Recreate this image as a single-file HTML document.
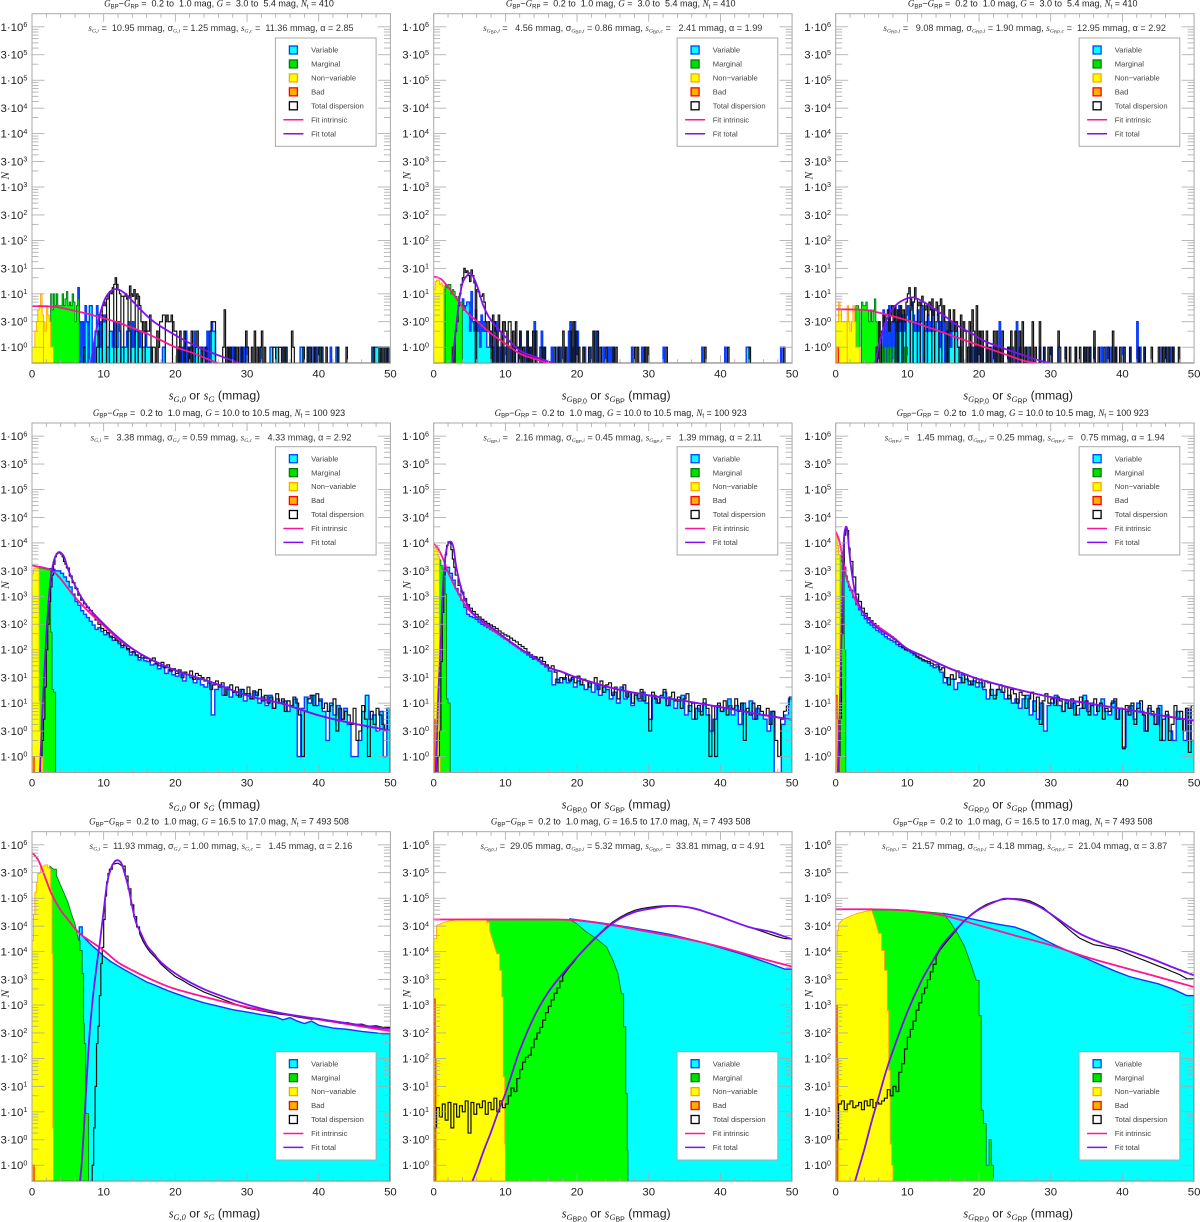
<!DOCTYPE html>
<html lang="en">
<head>
<meta charset="utf-8">
<title>Dispersion histograms</title>
<style>
html,body{margin:0;padding:0;background:#fff;width:1200px;height:1222px;overflow:hidden}
svg{display:block}
text{font-family:"Liberation Sans",sans-serif;white-space:pre}
</style>
</head>
<body>
<svg id="chart" xmlns="http://www.w3.org/2000/svg" width="1200" height="1222" viewBox="0 0 1200 1222"></svg>
<script>
/* ---------- Axis tick data ---------- */
const xTickValues = [0,10,20,30,40,50];
const yTickMantissas = [1,3];
const yTickExponents = [0,1,2,3,4,5,6];
const legendLabels = ['Variable','Marginal','Non\u2212variable','Bad','Total dispersion','Fit intrinsic','Fit total'];

/* ---------- Row 1: G = 3.0 to 5.4 mag ---------- */
const p1NonX=[0,.2,.4,.6,.8,1,1.2,1.4,1.6,1.8,2,2.2,2.4,2.6,2.8,3];
const p1NonN=[1,1,2,3,5,6,10,4,3,2,6,4,3,1,1,0];
const p1MarX=[2.4,2.6,2.8,3,3.2,3.4,3.6,3.8,4,4.2,4.4,4.6,4.8,5,5.2,5.4,5.6,5.8,6,6.2,6.4,6.6];
const p1MarN=[3,10,5,10,6,10,6,6,6,10,6,8,11,6,7,6,10,7,3,6,8,0];
const p1VarX=[6.4,6.6,7,7.2,7.4,7.6,8,8.2,8.6,8.8,9,9.2,9.4,9.6,9.8,10,10.2,10.4,10.6,10.8,11,11.2,11.4,11.6,11.8,12,12.2,12.4,12.6,12.8,13,13.2,13.4,13.6,13.8,14,14.2,14.4,14.6,14.8,15,15.2,15.4,15.6,15.8,16,16.2,16.4,16.6,18.2,18.4,20.4,20.6,21,21.4,21.6,22,22.2,22.6,22.8,23,23.2,23.4,24,24.4,25,25.2,25.4,27.4,27.8,28.2,29,29.4,29.6,30,31.8,33.2,33.4,34,34.2,35,35.2,37.4,37.6,38.4,38.6,39.2,39.6,40,40.2,41.6,42.4,42.6,47.4,47.6,47.8,48,48.2,48.4,48.6,49.4];
const p1VarN=[13,3,3,1,6,3,6,6,1,2,6,4,3,1,4,3,4,1,1,2,2,1,3,1,1,3,2,1,1,1,1,2,3,2,1,3,1,2,2,1,2,1,1,1,2,1,1,1,1,1,1,1,1,1,2,1,1,1,2,1,1,1,1,1,2,3,2,2,1,1,1,1,1,1,1,1,1,1,1,1,1,1,1,1,1,1,1,1,1,1,1,1,1,1,1,1,1,1,1,1,1];
const p1TotX=[7.2,9,9.2,9.4,9.6,9.8,10,10.2,10.4,10.6,10.8,11,11.2,11.4,11.6,11.8,12,12.2,12.4,12.6,12.8,13,13.2,13.4,13.6,13.8,14,14.2,14.4,14.6,14.8,15,15.2,15.4,15.6,15.8,16,16.2,16.4,16.8,17,17.4,17.6,17.8,18,18.2,18.4,18.6,18.8,19,19.2,19.4,19.6,19.8,20,20.4,20.6,21.2,21.8,22.2,22.8,23,23.6,24.2,24.8,25,25.2,25.4,26.6,26.8,27.2,27.6,28.2,28.6,29.2,29.8,30,30.6,31,31.4,31.8,32,32.4,33.6,33.8,34.4,34.6,35,35.4,36.2,36.4,37.8,38.4,38.8,39.4,40,40.4,41,42.6,43.8,47.6,48.4,48.8,49.2,49.6];
const p1TotN=[1,1,2,4,4,6,7,6,8,10,11,10,13,15,20,15,12,10,9,9,9,10,8,9,14,10,9,12,8,10,9,6,3,3,2,3,2,2,4,1,1,2,1,3,3,4,4,3,4,3,3,4,3,2,2,1,2,2,1,2,1,2,1,1,2,3,3,3,1,5,1,1,1,1,1,2,1,1,2,1,1,2,1,1,1,1,1,1,1,2,1,1,1,1,1,1,1,1,1,1,1,1,1,1,1];
const p2NonX=[0,.2,.4,.6,.8,1,1.2,1.4];
const p2NonN=[12,17,18,18,15,16,14,0];
const p2MarX=[1.2,1.4,1.6,1.8,2,2.2,2.4,2.6,2.8,3,3.2,3.4,3.6,3.8,4];
const p2MarN=[14,12,15,13,15,15,10,12,11,9,8,9,7,7,0];
const p2VarX=[3.8,4,4.2,4.4,4.6,4.8,5,5.2,5.4,5.6,5.8,6,6.2,6.4,6.6,6.8,7,7.2,7.4,7.6,7.8,8,8.2,8.6,8.8,9.2,9.6,10,10.6,11.2,11.8,12,12.6,13,13.4,14,14.8,15,15.4,16.4,17.2,17.6,18.2,18.8,19,19.4,19.6,20,21,21.8,22.4,22.6,23.6,24.2,24.6,25,27.6,29,29.4,32,37.4,40.6,43.6,43.8,48.4];
const p2VarN=[6,8,5,6,7,7,2,11,3,2,5,2,3,1,4,2,3,2,1,1,2,1,1,3,1,1,1,1,1,1,1,2,1,2,1,3,1,2,1,1,1,1,1,2,3,1,3,2,1,1,2,2,1,1,1,1,1,1,1,1,1,1,1,1,1];
const p2TotX=[2.6,3,3.2,3.4,3.6,3.8,4,4.2,4.4,4.6,4.8,5,5.2,5.4,5.6,6,6.2,6.4,6.6,6.8,7,7.2,7.4,7.6,7.8,8.2,8.4,8.6,9,9.2,9.6,9.8,10,10.4,10.6,11,11.4,11.6,12,12.4,13,13.4,13.8,14.2,15,15.4,16.8,17.4,18,18.4,19,19.4,19.8,20.2,20.8,21.6,22.2,22.8,23.2,24,25,25.4,28,28.4,29.4,29.8,32.4,37.8,41,44,48.8];
const p2TotN=[1,2,3,6,10,15,20,30,25,27,22,17,28,22,16,12,11,9,9,10,7,3,2,3,2,4,3,2,4,2,3,3,2,3,3,2,3,1,2,1,2,1,2,2,1,1,1,1,2,1,2,3,2,1,1,1,2,2,1,1,1,1,1,1,1,1,1,1,1,1,1];
const p3NonX=[0,.2,.4,.6,.8,1,1.2,1.4,1.6,1.8,2,2.2,2.4,2.6,2.8,3,3.2,3.4];
const p3NonN=[3,3,7,5,3,3,3,3,6,3,2,3,6,3,1,1,1,0];
const p3MarX=[2.8,3,3.2,3.6,3.8,4,4.2,4.4,4.6,4.8,5,5.2,5.4,5.6,6,6.4,6.8,7.2,7.6,8,8.4,9.6,9.8,10];
const p3MarN=[6,6,5,7,6,6,7,5,3,5,3,5,8,3,3,1,1,1,1,1,0,1,1,0];
const p3VarX=[6.6,7,7.4,7.8,8.2,8.4,8.6,8.8,9,9.2,9.4,9.6,9.8,10,10.2,10.4,10.6,10.8,11,11.2,11.4,11.6,11.8,12,12.4,12.6,12.8,13,13.2,13.4,13.6,13.8,14,14.2,14.4,14.6,14.8,15,15.4,15.6,15.8,16,16.2,16.4,16.6,16.8,17,17.2,17.4,18.6,19,19.4,19.6,20,20.4,21,21.6,22.2,22.8,23,24,24.6,25.2,25.6,26.6,28.4,29,30,31,32,33.4,34.6,35.4,36,37,37.8,38.4,39,40,41,42,42.4,43,45.4,46,46.6,47];
const p3VarN=[5,3,6,3,6,2,3,6,2,4,2,3,4,6,3,5,7,4,2,3,5,2,3,6,2,3,4,2,3,5,2,2,3,4,1,3,2,4,2,3,3,1,2,3,2,2,1,1,1,1,1,1,1,2,1,1,1,1,3,1,1,1,3,1,1,1,1,1,1,1,1,1,1,1,1,1,1,1,1,1,3,1,1,1,1,1,1];
const p3TotX=[5.6,6,6.4,6.6,6.8,7,7.2,7.4,7.6,7.8,8,8.2,8.6,8.8,9,9.4,9.6,9.8,10,10.2,10.4,10.6,10.8,11,11.2,11.4,11.6,11.8,12,12.2,12.4,12.6,12.8,13,13.2,13.4,13.6,13.8,14,14.2,14.4,14.6,14.8,15,15.2,15.6,15.8,16,16.2,16.4,16.6,16.8,17,17.4,17.8,18,18.4,18.6,19,19.2,19.6,20,20.4,21,21.4,22,22.4,22.8,23.2,24,24.4,25,25.6,26,26.4,27,27.4,27.8,28.4,29,29.6,30,31,31.2,32,32.6,33.4,34,34.6,35,35.4,36,36.6,37.4,38,38.6,39,39.6,40.2,41,42.2,43,44,45,45.6,46,46.4,47,47.8];
const p3TotN=[1,3,2,4,3,4,5,2,4,6,3,6,5,3,6,5,3,7,10,13,8,6,7,13,8,6,7,6,9,7,5,6,4,7,5,8,4,5,7,4,6,8,4,6,3,2,5,2,3,5,2,3,1,4,3,2,1,3,5,2,6,2,2,2,1,2,2,1,2,1,2,2,2,3,1,1,3,1,3,1,1,1,2,1,1,1,1,1,1,1,1,2,1,1,1,2,1,1,1,1,1,1,1,1,1,1,1,1,1,1];

/* ---------- Row 2: G = 10.0 to 10.5 mag ---------- */
const p4NonX=[0,.2,.4,.6,.8,1,1.1,1.3,1.5];
const p4NonN=[2640,3270,3400,3400,3270,11,3,1,0];
const p4MarX=[.8,1,1.2,1.6,2,2.4,2.6,2.8,3,3.3];
const p4MarN=[3300,3400,3400,3300,3200,3100,213,18,16,0];
const p4VarX=[2.4,2.8,3.2,3.6,4,4.4,4.8,5.2,5.6,6,6.4,6.8,7.2,7.6,8,8.4,8.8,9.2,9.6,10,10.4,10.8,11.2,11.6,12,12.4,12.8,13.2,13.6,14,14.4,14.8,15.2,15.6, 16,16.5,17,17.5,18,18.5,19,19.5,20,20.5,21,21.5,22,22.5,23,23.5,24,24.5,25,25.5,26,26.5,27,27.5,28,28.5,29,29.5,30,30.5,31,31.5,32,32.5,33,33.5,34,34.5,35,35.5,36,36.5,37,37.5,38,38.5,39,39.5,40,40.5,41,41.5,42,42.5,43,43.5,44,44.5,45,45.5,46,46.5,47,47.5,48,48.5,49,49.5];
const p4VarN=[3300,3200,3000,3000,2700,2300,1900,1500,1100,800,680,540,460,400,340,290,240,260,220,190,200,170,150,160,130,110,120,100,80,90,78,64,70,62, 60,52,54,44,48,36,42,34, 32,38,26,34,30,24,28,22, 20,24,6,18,22,14,20,13, 16,14,18,11,15,12,16,10, 13,9,14,8,12,10,11,7, 9,12,1,8,13,10,14,9, 12,7,2,10,6,9,5,8, 4,1,1,2,7,14,5,6, 3,7,1,8];
const p4TotX=[1.2,1.4,1.6,1.8,2,2.2,2.4,2.6,2.8,3,3.2,3.4,3.6,3.8,4,4.2,4.4,4.6,4.8,5.2,5.6,6,6.4,6.8,7.2,7.6,8,8.4,8.8,9.2,9.6,10,10.4,10.8,11.2,11.6,12,12.4,12.8,13.2,13.6,14,14.4,14.8,15.2,15.6, 16,16.4,16.8,17.2,17.6,18,18.4,18.8,19.2,19.6,20,20.4,20.8,21.2,21.6,22,22.4,22.8,23.2,23.6,24,24.4,24.8,25.2,25.6,26,26.4,26.8,27.2,27.6,28,28.4,28.8,29.2,29.6,30,30.4,30.8,31.2,31.6,32,32.4,32.8,33.2,33.6,34,34.4,34.8,35.2,35.6,36,36.4,36.8,37.2,37.6,38,38.4,38.8,39.2,39.6,40,40.4,40.8,41.2,41.6,42,42.4,42.8,43.2,43.6,44,44.4,44.8,45.2,45.6,46,46.4,46.8,47.2,47.6,48,48.4,48.8,49.2,49.6];
const p4TotN=[1,2,5,20,100,300,800,1500,2500,4000,5500,6300,6600,6500,6200,5500,4500,4000,3400,2400,1800,1400,1050,850,720,620,540,440,360,300,250,230,210,180,170,150,140,120,125,105,90,92,80,72,78,70, 68,62,70,55,50,58,46,52,40,44, 36,42,30,38,34,40,28,36,33,30, 26,30,18,22,26,20,24,14,18,22, 16,20,13,18,15,20,12,17,14,18, 11,14,10,13,8,15,10,12,7,11, 9,13,10,6,1,7,12,14,9,15, 11,8,10,7,9,12,3,8,5,7, 6,4,8,2,3,9,5,1,7,4, 8,6,4,3,7];
const p5NonX=[0,.2,.4,.6,.8,.9];
const p5NonN=[8000,9000,7500,5500,1,0];
const p5MarX=[.8,1,1.2,1.4,1.6,1.8,2,2.3];
const p5MarN=[4800,3800,3000,2300,1100,12,10,0];
const p5VarX=[1.4,1.8,2.2,2.6,3,3.4,3.8,4.2,4.6,5,5.4,5.8,6.2,6.6,7,7.4,7.8,8.2,8.6,9,9.4,9.8,10.2,10.6,11,11.4,11.8,12.2,12.6,13,13.4,13.8, 14,14.5,15,15.5,16,16.5,17,17.5,18,18.5,19,19.5,20,20.5,21,21.5,22,22.5,23,23.5,24,24.5,25,25.5,26,26.5,27,27.5,28,28.5,29,29.5,30,30.5,31,31.5,32,32.5,33,33.5,34,34.5,35,35.5,36,36.5,37,37.5,38,38.5,39,39.5,40,40.5,41,41.5,42,42.5,43,43.5,44,44.5,45,45.5,46,46.5,47,47.5,48,48.5,49,49.5];
const p5VarN=[3000,3500,2700,2000,1400,1100,850,620,460,420,400,370,330,300,280,260,240,225,210,190,175,160,155,135,125,115,105,95,88,80,72,66, 70,62,54,48,40,22,28,24, 30,24,28,20,26,22,18,24, 16,22,14,20,18,12,16,10, 20,12,16,9,14,11,16,10, 5,14,10,13,16,9,12,8, 11,14,6,9,5,8,7,10, 6,3,5,9,7,8,12,6, 9,4,10,7,11,5,8,6, 5,3,7,.3,.3,4,6,12];
const p5TotX=[.6,.8,1,1.2,1.4,1.6,1.8,2,2.2,2.4,2.6,2.8,3,3.4,3.8,4.2,4.6,5,5.4,5.8,6.2,6.6,7,7.4,7.8,8.2,8.6,9,9.4,9.8,10.2,10.6,11,11.4,11.8,12.2,12.6,13,13.4,13.8, 14,14.4,14.8,15.2,15.6,16,16.4,16.8,17.2,17.6,18,18.4,18.8,19.2,19.6,20,20.4,20.8,21.2,21.6,22,22.4,22.8,23.2,23.6,24,24.4,24.8,25.2,25.6,26,26.4,26.8,27.2,27.6,28,28.4,28.8,29.2,29.6,30,30.4,30.8,31.2,31.6,32,32.4,32.8,33.2,33.6,34,34.4,34.8,35.2,35.6,36,36.4,36.8,37.2,37.6,38,38.4,38.8,39.2,39.6,40,40.4,40.8,41.2,41.6,42,42.4,42.8,43.2,43.6,44,44.4,44.8,45.2,45.6,46,46.4,46.8,47.2,47.6,48,48.4,48.8,49.2,49.6];
const p5TotN=[1,3,60,500,2500,6000,9000,10500,10000,7500,5000,3500,2500,1600,1200,900,700,600,520,460,410,370,340,310,290,270,250,225,205,190,180,165,150,140,125,115,105,90,80,75, 74,66,72,60,52,44,50,38,24,30, 28,34,26,30,24,32,22,28,26,20, 24,30,18,26,16,22,24,14,20,12, 18,22,13,16,10,15,12,18,11,14, 3,16,12,10,14,18,9,13,16,11, 13,8,12,15,7,10,5,9,6,12, 8,1,9,1,10,7,11,6,9,8, 12,7,10,2,8,6,10,5,9,7, 6,8,4,7,2,1,5,7,9,13];
const p6NonX=[0,.2,.4,.6];
const p6NonN=[13000,9000,6000,0];
const p6MarX=[.6,.8,1,1.2,1.4];
const p6MarN=[6000,4500,3000,100,0];
const p6VarX=[1,1.2,1.4,1.6,1.8,2,2.4,2.8,3.2,3.6,4,4.4,4.8,5.2,5.6,6,6.4,6.8,7.2,7.6,8,8.4,8.8,9.2,9.6,10,10.4,10.8,11.2,11.6,12,12.4,12.8,13.2,13.6, 14,14.5,15,15.5,16,16.5,17,17.5,18,18.5,19,19.5,20,20.5,21,21.5,22,22.5,23,23.5,24,24.5,25,25.5,26,26.5,27,27.5,28,28.5,29,29.5,30,30.5,31,31.5,32,32.5,33,33.5,34,34.5,35,35.5,36,36.5,37,37.5,38,38.5,39,39.5,40,40.5,41,41.5,42,42.5,43,43.5,44,44.5,45,45.5,46,46.5,47,47.5,48,48.5,49,49.5];
const p6VarN=[5000,3500,2400,1900,1500,1300,950,700,560,440,380,320,290,260,230,215,195,175,160,150,140,125,115,108,100,95,88,80,72,68,62,60,56,50,46, 48,38,24,30,28,18,24,34, 28,22,26,20,24,18,12,18, 14,18,16,12,14,10,12,8, 12,14,6,11,5,10,3,9, 10,14,9,7,11,8,10,6, 8,14,7,10,6,9,12,7, 6,11,5,8,1.5,7,9,5, 10,7,3,8,6,4,9,2, 6,3,2,7,5,2,8,2];
const p6TotX=[.4,.6,.8,1,1.2,1.4,1.6,1.8,2,2.4,2.8,3.2,3.6,4,4.4,4.8,5.2,5.6,6,6.4,6.8,7.2,7.6,8,8.4,8.8,9.2,9.6,10,10.4,10.8,11.2,11.6,12,12.4,12.8,13.2,13.6, 14,14.4,14.8,15.2,15.6,16,16.4,16.8,17.2,17.6,18,18.4,18.8,19.2,19.6,20,20.4,20.8,21.2,21.6,22,22.4,22.8,23.2,23.6,24,24.4,24.8,25.2,25.6,26,26.4,26.8,27.2,27.6,28,28.4,28.8,29.2,29.6,30,30.4,30.8,31.2,31.6,32,32.4,32.8,33.2,33.6,34,34.4,34.8,35.2,35.6,36,36.4,36.8,37.2,37.6,38,38.4,38.8,39.2,39.6,40,40.4,40.8,41.2,41.6,42,42.4,42.8,43.2,43.6,44,44.4,44.8,45.2,45.6,46,46.4,46.8,47.2,47.6,48,48.4,48.8,49.2,49.6];
const p6TotN=[1,5,200,3000,14000,18000,17000,8000,4500,2300,1100,800,600,480,400,350,310,280,250,225,205,190,175,160,140,125,112,100,98,92,85,76,70,65,62,60,56,52, 52,42,46,30,22,34,28,40,30,24, 34,26,22,30,24,28,20,26,24,14, 12,18,22,16,20,12,18,15,10,16, 14,8,12,16,7,13,4,11,15,10, 12,9,13,11,7,10,8,12,6,9, 13,8,11,6,9,12,7,10,5,8, 7,10,12,5,8,1.4,9,6,10,4, 8,11,6,3,9,7,4,8,2,5, 7,2,4,9,5,7,3,8,1.2,9];

/* ---------- Row 3: G = 16.5 to 17.0 mag ---------- */
const p7NonX=[0,.2,.4,.6,.8,1,1.2,1.4,1.8,2.2,2.5,2.6,2.8,2.9,3];
const p7NonN=[16000,50000,130000,200000,290000,300000,400000,400000,420000,370000,350000,140000,9100,5,0];
const p7MarX=[2.5,3,3.4,4,5,5.5,6,6.5,6.7,7,7.2,7.3,7.5,7.9];
const p7MarN=[400000,350000,270000,174000,85000,51000,33000,16200,10500,3890,447,190,9.3,0];
const p7VarX=[6.6,7,7.5,8,8.5,9,9.5,10,11,12,13,14,15,16,17,18,19,20,22,24,26,28,30,32,34,35,36,37,38,39,40,42,44,46,48,49];
const p7VarN=[29000,20000,17000,14500,12500,11000,9500,8200,6500,5400,4500,3800,3200,2700,2400,2100,1850,1650,1330,1100,950,820,740,660,600,530,580,500,450,500,420,370,350,320,300,290];
const p7TotX=[8.4,8.6,8.8,9,9.2,9.4,9.6,9.8,10,10.2,10.4,10.6,10.8,11.2,12,12.6,13,13.4,13.8,14.2,14.6,15,15.5,16,16.5,17,17.5,18,19,20,21,22,23,24,25,26,27,28,29,30,32,34,36,37,38,39,40,41,42,43,44,45,46,47,48,49];
const p7TotN=[1,5,30,190,400,1500,6000,12000,40000,110000,200000,290000,350000,430000,455000,400000,260000,150000,75000,45000,29000,22000,15500,12000,9700,8300,7000,5800,4400,3400,2900,2400,2050,1750,1550,1380,1220,1080,960,880,780,690,640,600,570,540,560,500,500,450,470,430,440,400,410,380];
const p8NonX=[0,.4,1,1.5,2.3,3.7,7,7.4,7.8,8.3,8.8,9.2,9.5,9.7,9.9,10];
const p8NonN=[17500,31000,33000,35500,38000,40000,40000,35500,25000,15100,9100,4470,1420,45,2.5,0];
const p8MarX=[6.8,13,19,20,21.3,22.7,24.1,25,25.7,26.2,26.5,26.8,27,27.1];
const p8MarN=[40000,41000,40000,33000,23400,17400,12300,6900,3900,1620,390,22,1.9,0];
const p8VarX=[19,21,23,25,27,29,31,33,35,37,39,41,43,45,47,49];
const p8VarN=[41000,38000,35000,32000,29000,26000,23500,21000,18000,15500,13000,10800,9000,7300,5900,4700];
const p8TotX=[0,.4,.8,1.2,1.6,2,2.4,2.8,3.2,3.6,4,4.4,4.8,5.2,5.6,6,6.4,6.8,7.2,7.6,8,8.4,8.8,9.2,9.6,10, 10.4,10.8,11.2,11.6,12,12.4,12.8,13.2,13.6,14,14.4,14.8,15.2,15.6,16,16.4,16.8,17.2,17.6,18,18.5,19,19.5,20,21,22,23,24,25,26,27,28,29,30,31,32,33,34,35,36,37,38,39,40,41,42,43,44,45,46,47,48,49];
const p8TotN=[5,12,8,14,7,15,5,14,8,13,10,16,4,15,9,14,12,16,9,15,11,18,10,16,12,14, 20,28,24,42,62,85,105,115,160,230,300,380,520,720,950,1250,1650,2100,2800,3500,4300,5300,6300,7800,11000,15500,21000,28000,36000,44000,52000,59000,64000,67000,70000,72000,72500,71500,69000,65000,60000,55000,50000,45000,40000,36000,32000,29000,26000,23500,21000,19000,17500];
const p9NonX=[0,.2,.4,1,2,3,4,5,5.5,6,6.4,6.8,7.2,7.4,7.6,7.8,8];
const p9NonN=[9000,25000,33000,40000,46000,52000,56000,60000,38000,21900,10500,4470,794,60,2.5,1,0];
const p9MarX=[5,10,15,16,17,18,19,19.6,20,20.3,20.6,21,21.4,21.7,22];
const p9MarN=[60000,60000,52000,35500,21900,12300,5100,2900,631,10.7,6,1,3,1,0];
const p9VarX=[15,17,19,21,23,25,27,29,31,33,35,37,39,41,43,45,47,49];
const p9VarN=[52000,47000,41000,36000,32000,28800,23000,17000,12500,9500,7400,5600,4300,3400,2900,2500,2000,1500];
const p9TotX=[0,.4,.8,1.2,1.6,2,2.4,2.8,3.2,3.6,4,4.4,4.8,5.2,5.6,6,6.4,6.8,7.2,7.6,8,8.4, 8.8,9.2,9.6,10,10.4,10.8,11.2,11.6,12,12.4,12.8,13.2,13.6,14,14.5,15,15.5,16,17,18,19,20,21,22,23,24,25,26,27,28,29,30,31,32,33,34,35,36,37,38,39,40,41,42,43,44,45,46,47,48,49];
const p9TotN=[3,14,16,11,14,16,12,13,15,11,16,13,17,12,15,14,16,18,26,20,30,24, 55,80,150,250,350,500,800,1100,1630,2100,3000,4200,5800,7900,10500,12800,15500,18600,27000,38000,51000,64000,76000,86000,93000,97000,98000,96000,90000,78000,66000,50000,39000,30000,23000,18000,15500,13500,12800,12000,11200,10000,8800,7800,6900,6100,5400,4800,4200,3700,3100];

/* ---------- Bad-quality histograms ---------- */
const p1BadX=[0,.2]; const p1BadN=[.5,0];
const p2BadX=[0,.2]; const p2BadN=[.5,0];
const p3BadX=[0,.2,.4]; const p3BadN=[1,1,0];
const p4BadX=[0,.3]; const p4BadN=[1,0];
const p5BadX=[0,.2]; const p5BadN=[5,0];
const p6BadX=[0,.2,.4,.5]; const p6BadN=[14,5,1,0];
const p7BadX=[0,.3]; const p7BadN=[1,0];
const p8BadX=[0,.2,.3]; const p8BadN=[1300,100,0];
const p9BadX=[0,.2,.3]; const p9BadN=[1000,100,0];

/* ---------- Fit curves: intrinsic ---------- */
const p1IntX=[0,1,2,3,4,6,8,10,12,14,16,18,20,22,24,26];
const p1IntN=[5.9,5.9,5.85,5.7,5.5,4.8,4.15,3.5,2.9,2.3,1.8,1.35,1,.82,.64,.5];
const p2IntX=[0,1,2,3,4,5,6,8,10,12,14,16];
const p2IntN=[21,19,13.5,8.8,5.7,4,3.1,1.8,1.17,.76,.61,.5];
const p3IntX=[0,2,4,6,8,10,12,14,16,18,20,22,24,26,28];
const p3IntN=[5.1,5.1,5,4.45,3.8,3.2,2.6,2.1,1.68,1.35,1.09,.88,.71,.57,.5];
const p4IntX=[0,2,3,4,5,6,8,10,12,14,16,18,20,25,30,35,40,45,50];
const p4IntN=[3780,3360,2900,2120,1420,960,500,283,160,104,72,54,41,24.7,13.9,9.7,5.9,4.1,3.07];
const p5IntX=[0,.5,1,1.5,2,3,4,5,6,8,10,12,14,16,18,20,25,30,35,40,45,50];
const p5IntN=[9600,8300,6240,4360,2840,1480,830,540,407,246,160,104,72,47,38,30,19,14,11,8.4,6.3,4.9];
const p6IntX=[0,.5,1,1.5,2,3,4,5,6,8,10,12,14,16,18,20,25,30,35,40,45,50];
const p6IntN=[16300,11000,5000,2280,1480,720,468,330,265,172,104,78,58,44,35,28,18.5,13,10,7.8,6,4.7];
const p7IntX=[0,.4,1,2,2.5,3,4,5,6,7,8,10,12,14,16,18,20,25,30,35,40,45,50];
const p7IntN=[708000,630000,479000,214000,141000,102000,60000,40000,27000,20000,16200,10500,6300,4470,3300,2510,2000,1320,912,692,537,417,324];
const p8IntX=[0,15,20,25,30,35,40,45,50];
const p8IntN=[40000,40000,38500,31000,23400,17500,12300,7900,5250];
const p9IntX=[0,5,10,15,20,25,30,35,40,45,50];
const p9IntN=[62000,62000,59000,47600,31000,20000,13200,7900,5100,3350,2170];

/* ---------- Fit curves: total ---------- */
const p1FitX=[8.2,9,10,10.9,11.8,13,15,17,20,23.4,29];
const p1FitN=[.5,2.2,7,11,12.2,10.1,5.3,3,1.68,.97,.5];
const p2FitX=[2.6,3.45,4,4.8,5.3,6.1,6.9,8,10,12,13.9,16.7];
const p2FitN=[.5,5.7,15.6,23,23.3,13.5,6.1,3.2,1.56,.87,.68,.5];
const p3FitX=[5.5,6.2,7,8,9,10.4,11.3,12.7,15,16.9,19,21,24.8,27.6,29.9];
const p3FitN=[.5,1.35,3,5.3,7.1,8.5,8.2,6.5,4,2.6,1.8,1.26,.82,.61,.5];
const p4FitX=[1.1,1.5,2,2.5,3,3.5,3.9,4.5,5,6,7,8,10,12,14,16,20,25,30,35,40,45,50];
const p4FitN=[.5,9,185,1600,4360,6300,6700,5400,3300,1600,900,582,304,171,105,72,41,24.7,13.9,9.7,5.9,4.1,3.07];
const p5FitX=[.35,.6,1,1.35,1.8,2.3,2.75,3.2,4,5,6,8,10,12,14,16,18,20,25,30,35,40,45,50];
const p5FitN=[.5,10,160,2120,7700,10600,8300,3260,1200,586,407,265,165,106,72,47,38,30,19,14,11,8.4,6.3,4.9];
const p6FitX=[.3,.5,.7,.9,1.1,1.3,1.6,1.9,2.3,2.8,3.5,4.5,6,8,10,12,14,16,18,20,25,30,35,40,45,50];
const p6FitN=[.5,4,38,670,8900,17800,18300,6700,2450,1030,590,380,246,165,104,78,58,44,35,28,18.5,13,10,7.8,6,4.7];
const p7FitX=[6.7,7,7.5,8,8.5,9,9.5,10,10.5,11,11.5,12,12.5,13,13.5,14,14.5,15,16,17,18,20,22,25,30,35,40,45,50];
const p7FitN=[.5,1.4,19,251,1410,5130,16000,59000,200000,355000,479000,513000,441000,269000,151000,68000,35500,25100,13200,9120,6310,3890,2690,1740,1020,692,550,436,355];
const p8FitX=[5.4,6,7,8,9,10,11,12,14,16,18,20,22,24,26,28,30,33,36,38,40,44,47,50];
const p8FitN=[.5,.8,1.9,4.2,10,22,56,141,600,1750,3880,7900,15100,26900,41700,55000,63000,71600,66000,55000,44700,28800,23400,17000];
const p9FitX=[2.7,4,5,6,7,8,10,12,13.6,15,16.9,18.3,20.1,22.9,24,26,28,30,34,38,40,44,47,50];
const p9FitN=[.5,2,6.5,19,56,141,740,2900,6900,14000,26900,41700,63000,93000,98000,91000,74000,51000,21900,13200,11300,7400,5100,3600];

/* ---------- Panel text ---------- */
const rowRanges=['3.0 to  5.4','10.0 to 10.5','16.5 to 17.0'];
const rowCounts=['410','100 923','7 493 508'];
const statI=['10.95',' 4.56',' 9.08',' 3.38',' 2.16',' 1.45','11.93','29.05','21.57'];
const statSigma=['1.25','0.86','1.90','0.59','0.45','0.25','1.00','5.32','4.18'];
const statC=['11.36',' 2.41','12.95',' 4.33',' 1.39',' 0.75',' 1.45','33.81','21.04'];
const statAlpha=['2.85','1.99','2.92','2.92','2.11','1.94','2.16','4.91','3.87'];

const panelData=[
 [p1VarX,p1VarN,p1MarX,p1MarN,p1NonX,p1NonN,p1BadX,p1BadN,p1TotX,p1TotN,p1IntX,p1IntN,p1FitX,p1FitN],
 [p2VarX,p2VarN,p2MarX,p2MarN,p2NonX,p2NonN,p2BadX,p2BadN,p2TotX,p2TotN,p2IntX,p2IntN,p2FitX,p2FitN],
 [p3VarX,p3VarN,p3MarX,p3MarN,p3NonX,p3NonN,p3BadX,p3BadN,p3TotX,p3TotN,p3IntX,p3IntN,p3FitX,p3FitN],
 [p4VarX,p4VarN,p4MarX,p4MarN,p4NonX,p4NonN,p4BadX,p4BadN,p4TotX,p4TotN,p4IntX,p4IntN,p4FitX,p4FitN],
 [p5VarX,p5VarN,p5MarX,p5MarN,p5NonX,p5NonN,p5BadX,p5BadN,p5TotX,p5TotN,p5IntX,p5IntN,p5FitX,p5FitN],
 [p6VarX,p6VarN,p6MarX,p6MarN,p6NonX,p6NonN,p6BadX,p6BadN,p6TotX,p6TotN,p6IntX,p6IntN,p6FitX,p6FitN],
 [p7VarX,p7VarN,p7MarX,p7MarN,p7NonX,p7NonN,p7BadX,p7BadN,p7TotX,p7TotN,p7IntX,p7IntN,p7FitX,p7FitN],
 [p8VarX,p8VarN,p8MarX,p8MarN,p8NonX,p8NonN,p8BadX,p8BadN,p8TotX,p8TotN,p8IntX,p8IntN,p8FitX,p8FitN],
 [p9VarX,p9VarN,p9MarX,p9MarN,p9NonX,p9NonN,p9BadX,p9BadN,p9TotX,p9TotN,p9IntX,p9IntN,p9FitX,p9FitN]
];

/* ---------- Drawing ---------- */
const NS='http://www.w3.org/2000/svg';
const root=document.getElementById('chart');
const colLeft=[32,433.7,835.7];
const rowTop=[13.7,423,831.7];
const legendTop=[24.3,23.7,220];
const PW=358.4, PH=349.6, DEC=53.4, YMIN=0.5;
const GRAY='#a8a8a8';

function mk(parent,tag,attrs){
  const e=document.createElementNS(NS,tag);
  for(const k in attrs) e.setAttribute(k,attrs[k]);
  parent.appendChild(e);
  return e;
}
function f(v){return v.toFixed(2);}

function histPath(sx,sy,xs,ns,maxW,slopeOver){
  const base=sy(0);
  let d='M'+f(sx(0))+' '+f(base);
  const len=Math.min(xs.length,ns.length);
  let cur=0;
  for(let i=0;i<len;i++){
    const x0=xs[i];
    const next=i+1<len?xs[i+1]:50;
    const x1=Math.min(next,x0+maxW,50);
    const y=sy(ns[i]);
    if(x0>cur) d+='L'+f(sx(x0))+' '+f(base);
    d+='L'+f(sx(x0))+' '+f(y);
    if(i+1<len&&next-x0>slopeOver&&next<=x0+maxW){
      d+='L'+f(sx(next))+' '+f(sy(ns[i+1]));
    }else{
      d+='L'+f(sx(x1))+' '+f(y);
    }
    if(i+1>=len||next>x1) d+='L'+f(sx(x1))+' '+f(base);
    cur=x1;
  }
  d+='L'+f(sx(50))+' '+f(base);
  return d;
}
function curvePath(sx,sy,xs,ns){
  const p=[];
  const len=Math.min(xs.length,ns.length);
  for(let i=0;i<len;i++) p.push([sx(xs[i]),sy(ns[i])]);
  let d='M'+f(p[0][0])+' '+f(p[0][1]);
  for(let i=0;i<p.length-1;i++){
    const a=p[Math.max(i-1,0)],b=p[i],c=p[i+1],e=p[Math.min(i+2,p.length-1)];
    d+='C'+f(b[0]+(c[0]-a[0])/6)+' '+f(b[1]+(c[1]-a[1])/6)+' '+f(c[0]-(e[0]-b[0])/6)+' '+f(c[1]-(e[1]-b[1])/6)+' '+f(c[0])+' '+f(c[1]);
  }
  return d;
}
function serif(t){return '<tspan font-family="Liberation Serif" font-style="italic">'+t+'</tspan>';}
function titleMarkup(r){
  const sub=(t)=>'<tspan dy="1.6" font-size="6">'+t+'</tspan>';
  return serif('G')+sub('BP')+'<tspan dy="-1.6">\u2212</tspan>'+serif('G')+sub('RP')+
    '<tspan dy="-1.6"> =  0.2 to  1.0 mag, </tspan>'+serif('G')+' = '+(r===0?' ':'')+rowRanges[r]+' mag, '+serif('N')+
    sub('t')+'<tspan dy="-1.6"> = '+rowCounts[r]+'</tspan>';
}
function statSym(sym,c,kind,isSerif){
  const head=isSerif?serif(sym):sym;
  if(c===0) return head+'<tspan dy="1.5" font-size="5.6" font-family="Liberation Serif" font-style="italic">G,'+kind+'</tspan>';
  const band=c===1?'BP':'RP';
  return head+'<tspan dy="1.5" font-size="5.6" font-family="Liberation Serif" font-style="italic">G</tspan><tspan dy="1" font-size="4.6">'+band+'</tspan><tspan dy="-1" font-size="5.6" font-family="Liberation Serif" font-style="italic">,'+kind+'</tspan>';
}
function statMarkup(i,c){
  const back='<tspan dy="-1.5"> ';
  return statSym('s',c,'i',true)+back+'=  '+statI[i]+' mmag, </tspan>'+
    statSym('\u03c3',c,'i',false)+back+'= '+statSigma[i]+' mmag, </tspan>'+
    statSym('s',c,'c',true)+back+'=  '+statC[i]+' mmag, \u03b1 = '+statAlpha[i]+'</tspan>';
}
function xlabelMarkup(c){
  const sub=(k)=>{
    if(c===0) return '<tspan dy="2.6" font-size="8.4" font-family="Liberation Serif" font-style="italic">'+k+'</tspan><tspan dy="-2.6"> </tspan>';
    const band=c===1?'BP':'RP';
    return '<tspan dy="2.6" font-size="8.4" font-family="Liberation Serif" font-style="italic">G</tspan><tspan dy="1.4" font-size="7">'+band+(k.indexOf(',')>=0?',0':'')+'</tspan><tspan dy="-4"> </tspan>';
  };
  return serif('s')+sub('G,0')+'or '+serif('s')+sub('G')+'(mmag)';
}

const legendFills=[['#00ffff','#0040ff'],['#00e000','#008000'],['#ffff00','#ffa500'],['#ffb000','#ff0000'],['#ffffff','#000000']];

panelData.forEach((arr,i)=>{
  const c=i%3, r=Math.floor(i/3);
  const L=colLeft[c], T=rowTop[r], B=T+PH;
  const sx=v=>L+v*PW/50;
  const sy=n=>n<=YMIN?B:B-(Math.log10(n)-Math.log10(YMIN))*DEC;
  const g=mk(root,'g',{});
  
  

  const clipId='clip'+i;
  const defs=mk(g,'defs',{});
  const cp=mk(defs,'clipPath',{id:clipId});
  mk(cp,'rect',{x:L,y:T,width:PW,height:PH});

  const plot=mk(g,'g',{'clip-path':'url(#'+clipId+')'});
  const maxW=r===0?0.2:20;
  const slopeOver=r===0?99:(r===1?0.55:0.45);
  const specs=[
    ['variable-histogram',0,'#00ffff','#0a3cff',1.4],
    ['marginal-histogram',2,'#00ff00','#007a20',0.9],
    ['non-variable-histogram',4,'#ffff00','#ffa500',0.9],
    ['bad-histogram',6,'#ffa500','#ff0000',0.9]
  ];
  specs.forEach(s=>{
    const h=mk(plot,'path',{d:histPath(sx,sy,arr[s[1]],arr[s[1]+1],maxW,slopeOver),fill:s[2],stroke:s[3],'stroke-width':s[4]});
    
    
  });
  const tot=mk(plot,'path',{d:histPath(sx,sy,arr[8],arr[9],maxW,slopeOver),fill:'none',stroke:'#111','stroke-width':1.2});
  
  
  const fitI=mk(plot,'path',{d:curvePath(sx,sy,arr[10],arr[11]),fill:'none',stroke:'#ff1493','stroke-width':1.8});
  
  
  const fitT=mk(plot,'path',{d:curvePath(sx,sy,arr[12],arr[13]),fill:'none',stroke:'#7f10f0','stroke-width':1.8});
  
  

  /* ticks */
  const ticks=mk(g,'g',{stroke:GRAY,'stroke-width':0.8,fill:'none'});
  
  
  for(let v=0;v<=50;v+=2){
    const len=v%10===0?8:4;
    mk(ticks,'line',{x1:sx(v),x2:sx(v),y1:B,y2:B-len});
    mk(ticks,'line',{x1:sx(v),x2:sx(v),y1:T,y2:T+len});
  }
  yTickExponents.forEach(e=>{
    [1,2,3,4,5,6,7,8,9].forEach(m=>{
      const n=m*Math.pow(10,e);
      const y=sy(n);
      if(y<T) return;
      const len=yTickMantissas.indexOf(m)>=0?12.5:6.5;
      mk(ticks,'line',{x1:L,x2:L+len,y1:y,y2:y});
      mk(ticks,'line',{x1:L+PW,x2:L+PW-len,y1:y,y2:y});
    });
  });
  const frame=mk(g,'rect',{x:L,y:T,width:PW,height:PH,fill:'none',stroke:GRAY,'stroke-width':1});
  
  

  /* tick labels */
  xTickValues.forEach(v=>{
    const t=mk(g,'text',{x:sx(v),y:B+14,'text-anchor':'middle','font-size':11.4,fill:'#222'});
    
    
    t.textContent=String(v);
  });
  yTickExponents.forEach(e=>{
    yTickMantissas.forEach(m=>{
      if(m*Math.pow(10,e)>1e6) return;
      const t=mk(g,'text',{x:L-31.5,y:sy(m*Math.pow(10,e))+4,'font-size':11.4,fill:'#222'});
      
      
      t.innerHTML=m+'\u00b710<tspan dy="-3.8" font-size="7.2">'+e+'</tspan>';
    });
  });

  /* titles */
  const title=mk(g,'text',{x:L+187,y:T-7,'text-anchor':'middle','font-size':9,fill:'#222'});
  
  
  title.innerHTML=titleMarkup(r);
  const st=mk(g,'text',{x:L+189,y:T+17.4,'text-anchor':'middle','font-size':9.1,fill:'#333'});
  
  
  st.innerHTML=statMarkup(i,c);
  const xl=mk(g,'text',{x:L+182.5,y:B+36,'text-anchor':'middle','font-size':12.3,fill:'#222'});
  
  
  xl.innerHTML=xlabelMarkup(c);
  const yl=mk(g,'text',{x:L-23,y:T+162,'font-size':11.5,fill:'#222','font-style':'italic','text-anchor':'middle',transform:'rotate(-90 '+(L-23)+' '+(T+162)+')'});
  
  
  yl.style.fontFamily='"Liberation Serif",serif';
  yl.textContent='N';

  /* legend */
  const lx=L+243.4, ly=T+legendTop[r];
  const lg=mk(g,'g',{});
  
  
  mk(lg,'rect',{x:lx,y:ly,width:100.7,height:108.3,fill:'#fff',stroke:GRAY,'stroke-width':1});
  legendLabels.forEach((lab,k)=>{
    const cy=ly+12+k*13.95;
    const en=mk(lg,'g',{});
    
    
    if(k<5){
      mk(en,'rect',{x:lx+14,y:cy-4,width:8,height:8,fill:legendFills[k][0],stroke:legendFills[k][1],'stroke-width':1.3});
    }else{
      mk(en,'line',{x1:lx+8,x2:lx+28,y1:cy,y2:cy,stroke:k===5?'#ff1493':'#7f10f0','stroke-width':1.5});
    }
    const t=mk(en,'text',{x:lx+35.7,y:cy+2.6,'font-size':7.6,fill:'#444'});
    t.textContent=lab;
  });
});
</script>
</body>
</html>
